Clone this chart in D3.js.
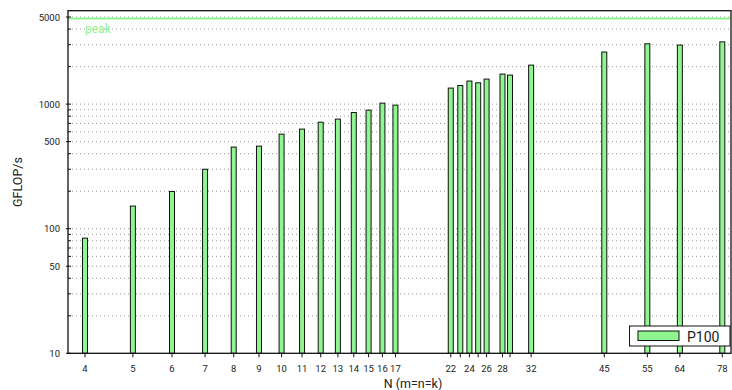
<!DOCTYPE html>
<html>
<head>
<meta charset="utf-8">
<script src="https://cdn.jsdelivr.net/npm/d3@7"></script>
<style>
  body { margin: 0; background: #fff; }
  text { font-family: Roboto, "DejaVu Sans", sans-serif; fill: #222; }
</style>
</head>
<body>
<div id="root"></div>
<script>
// matrix sizes N (m=n=k) and measured throughput
const sizes = [4, 5, 6, 7, 8, 9, 10, 11, 12, 13, 14, 15, 16, 17, 22, 23, 24, 25, 26, 28, 29, 32, 45, 55, 64, 78]
const gflops = [84, 152, 199, 300, 452, 460, 574, 630, 716, 758, 856, 895, 1018, 981,
                1345, 1410, 1531, 1483, 1588, 1742, 1710, 2055, 2617, 3050, 2980, 3160]
const xLabels = [4, 5, 6, 7, 8, 9, 10, 11, 12, 13, 14, 15, 16, 17, 22, 24, 26, 28, 32, 45, 55, 64, 78]
const yLabels = [10, 50, 100, 500, 1000, 5000]
const peak = 4870
const seriesName = 'P100'

const w = 732, h = 390
const green = '#8ff58f'
const plotL = 68, plotR = 731, plotT = 10.7, plotB = 353.3

const svg = d3.select('#root')
    .append('svg')
    .attr('width', w)
    .attr('height', h)

const x = d3.scaleLog().domain([4, 78]).range([85, 722.3])
const y = d3.scaleLog().domain([10, 5620]).range([plotB, plotT])

// all decade sub-ticks for the grid
const yTicks = []
for (let d = 10; d < 10000; d *= 10) {
    for (let k = 1; k < 10; k++) {
        const v = d * k
        if (v >= 10 && v <= 5000) yTicks.push(v)
    }
}

// dotted grid
svg.append('g')
    .selectAll('line')
    .data(yTicks.filter(v => v > 10))
    .enter()
    .append('line')
    .attr('x1', plotL)
    .attr('x2', plotR)
    .attr('y1', d => y(d))
    .attr('y2', d => y(d))
    .attr('stroke', '#999')
    .attr('stroke-width', 1)
    .attr('stroke-dasharray', '1,3')

// peak line
svg.append('line')
    .attr('x1', plotL)
    .attr('x2', plotR)
    .attr('y1', y(peak))
    .attr('y2', y(peak))
    .attr('stroke', green)
    .attr('stroke-width', 2)

svg.append('text')
    .attr('x', 85)
    .attr('y', y(peak) + 15)
    .attr('font-size', 12)
    .style('fill', green)
    .text('peak')

// bars
const bw = 5
svg.selectAll('.bar')
    .data(sizes)
    .enter()
    .append('rect')
    .attr('class', 'bar')
    .attr('x', d => x(d) - bw / 2)
    .attr('width', bw)
    .attr('y', (d, i) => y(gflops[i]))
    .attr('height', (d, i) => y(10) - y(gflops[i]))
    .attr('fill', green)
    .attr('stroke', '#111')
    .attr('stroke-width', 1)

// y ticks (inward) + labels
svg.append('g')
    .selectAll('line')
    .data(yTicks)
    .enter()
    .append('line')
    .attr('x1', plotL)
    .attr('x2', plotL + 3)
    .attr('y1', d => y(d))
    .attr('y2', d => y(d))
    .attr('stroke', '#111')

svg.append('g')
    .selectAll('line')
    .data(yLabels)
    .enter()
    .append('line')
    .attr('x1', plotL - 2)
    .attr('x2', plotL)
    .attr('y1', d => y(d))
    .attr('y2', d => y(d))
    .attr('stroke', '#111')

svg.append('g')
    .selectAll('text')
    .data(yLabels)
    .enter()
    .append('text')
    .attr('x', 60)
    .attr('y', d => y(d) + 3.5)
    .attr('text-anchor', 'end')
    .attr('font-size', 9.5)
    .text(d => d)

// x ticks + labels
svg.append('g')
    .selectAll('line')
    .data(sizes)
    .enter()
    .append('line')
    .attr('x1', d => x(d))
    .attr('x2', d => x(d))
    .attr('y1', plotB)
    .attr('y2', plotB + 4)
    .attr('stroke', '#111')

svg.append('g')
    .selectAll('text')
    .data(xLabels)
    .enter()
    .append('text')
    .attr('x', d => x(d))
    .attr('y', 372)
    .attr('text-anchor', 'middle')
    .attr('font-size', 9.5)
    .text(d => d)

// frame
svg.append('rect')
    .attr('x', plotL)
    .attr('y', plotT)
    .attr('width', plotR - plotL)
    .attr('height', plotB - plotT)
    .attr('fill', 'none')
    .attr('stroke', '#111')
    .attr('stroke-width', 1.3)

// axis titles
svg.append('text')
    .attr('x', 413)
    .attr('y', 388)
    .attr('text-anchor', 'middle')
    .attr('font-size', 12.5)
    .text('N (m=n=k)')

svg.append('text')
    .attr('transform', 'translate(22,182) rotate(-90)')
    .attr('text-anchor', 'middle')
    .attr('font-size', 12.5)
    .text('GFLOP/s')

// legend
const lg = svg.append('g')
lg.append('rect')
    .attr('x', 629.5)
    .attr('y', 326)
    .attr('width', 100.5)
    .attr('height', 20)
    .attr('fill', '#fff')
    .attr('stroke', '#111')
lg.append('rect')
    .attr('x', 638)
    .attr('y', 331)
    .attr('width', 41)
    .attr('height', 9.5)
    .attr('fill', green)
    .attr('stroke', '#111')
lg.append('text')
    .attr('x', 687)
    .attr('y', 342)
    .attr('font-size', 14)
    .text(seriesName)
</script>
</body>
</html>
